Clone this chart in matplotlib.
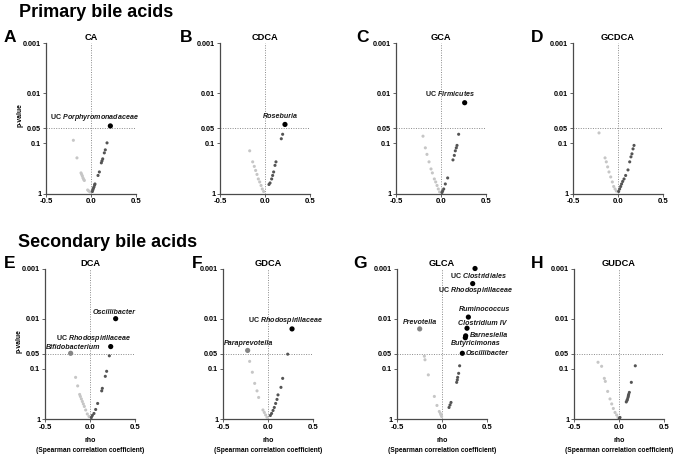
import matplotlib
matplotlib.use('Agg')
import matplotlib.pyplot as plt
from matplotlib.ticker import NullLocator

plt.rcParams['font.family'] = ['Liberation Sans', 'DejaVu Sans']
plt.rcParams['mathtext.fontset'] = 'custom'
plt.rcParams['mathtext.it'] = 'Liberation Sans:italic:bold'
plt.rcParams['mathtext.rm'] = 'Liberation Sans:bold'
plt.rcParams['mathtext.bf'] = 'Liberation Sans:bold'

# ---------------- data (rho, p-value) ----------------
# CA
ca_rho_neg = [-0.196, -0.156, -0.111, -0.104, -0.096, -0.089, -0.081, -0.074, -0.037, -0.026, -0.011]
ca_p_neg = [0.087, 0.195, 0.389, 0.417, 0.447, 0.490, 0.525, 0.550, 0.851, 0.891, 0.933]
ca_rho_pos = [0.178, 0.159, 0.148, 0.130, 0.122, 0.115, 0.093, 0.078, 0.044, 0.040, 0.033, 0.026, 0.020, 0.015]
ca_p_pos = [0.098, 0.135, 0.155, 0.204, 0.224, 0.245, 0.372, 0.437, 0.646, 0.676, 0.741, 0.794, 0.851, 0.912]
ca_sig_names = ["UC Porphyromonadaceae"]
ca_sig_rho = [0.215]
ca_sig_p = [0.045]

# CDCA
cdca_rho_neg = [-0.170, -0.137, -0.119, -0.104, -0.089, -0.074, -0.059, -0.044, -0.030, -0.015]
cdca_p_neg = [0.141, 0.234, 0.288, 0.347, 0.417, 0.513, 0.589, 0.692, 0.813, 0.912]
cdca_rho_pos = [0.196, 0.181, 0.122, 0.111, 0.096, 0.085, 0.074, 0.056, 0.044]
cdca_p_pos = [0.066, 0.081, 0.234, 0.275, 0.372, 0.437, 0.513, 0.617, 0.661]
cdca_sig_names = ["Roseburia"]
cdca_sig_rho = [0.222]
cdca_sig_p = [0.042]

# GCA
gca_rho_neg = [-0.200, -0.174, -0.156, -0.133, -0.111, -0.096, -0.074, -0.059, -0.044, -0.030, -0.015]
gca_p_neg = [0.072, 0.123, 0.166, 0.234, 0.324, 0.389, 0.513, 0.589, 0.692, 0.813, 0.933]
gca_rho_pos = [0.196, 0.178, 0.170, 0.159, 0.148, 0.133, 0.074, 0.048, 0.030, 0.018, 0.011]
gca_p_pos = [0.066, 0.110, 0.123, 0.141, 0.174, 0.214, 0.490, 0.646, 0.813, 0.891, 0.955]
gca_sig_names = ["UC Firmicutes"]
gca_sig_rho = [0.263]
gca_sig_p = [0.0155]

# GCDCA
gcdca_rho_neg = [-0.211, -0.144, -0.130, -0.115, -0.100, -0.081, -0.063, -0.048, -0.033, -0.018]
gcdca_p_neg = [0.062, 0.195, 0.234, 0.295, 0.372, 0.468, 0.589, 0.724, 0.813, 0.891]
gcdca_rho_pos = [0.178, 0.167, 0.155, 0.144, 0.130, 0.111, 0.085, 0.067, 0.052, 0.040, 0.030, 0.018, 0.007]
gcdca_p_pos = [0.110, 0.129, 0.162, 0.186, 0.234, 0.339, 0.437, 0.513, 0.575, 0.646, 0.724, 0.813, 0.912]
gcdca_sig_names = []
gcdca_sig_rho = []
gcdca_sig_p = []

# DCA
dca_rho_neg = [-0.160, -0.137, -0.115, -0.107, -0.096, -0.085, -0.074, -0.063, -0.048, -0.030, -0.011]
dca_p_neg = [0.148, 0.219, 0.324, 0.355, 0.398, 0.447, 0.501, 0.562, 0.661, 0.794, 0.891]
dca_rho_pos = [0.215, 0.185, 0.170, 0.137, 0.130, 0.085, 0.063, 0.044, 0.026, 0.015]
dca_p_pos = [0.055, 0.112, 0.141, 0.245, 0.275, 0.490, 0.646, 0.776, 0.851, 0.933]
dca_sig_names = ["Oscillibacter", "UC Rhodospirillaceae", "Bifidobacterium"]
dca_sig_rho = [0.285, 0.230, -0.215]
dca_sig_p = [0.010, 0.036, 0.049]

# GDCA
gdca_rho_neg = [-0.204, -0.174, -0.148, -0.122, -0.104, -0.056, -0.041, -0.026, -0.011]
gdca_p_neg = [0.071, 0.117, 0.195, 0.275, 0.372, 0.661, 0.741, 0.832, 0.933]
gdca_rho_pos = [0.219, 0.163, 0.144, 0.111, 0.100, 0.085, 0.070, 0.056, 0.040, 0.026]
gdca_p_pos = [0.051, 0.155, 0.234, 0.331, 0.407, 0.490, 0.589, 0.676, 0.776, 0.851]
gdca_sig_names = ["UC Rhodospirillaceae", "Paraprevotella"]
gdca_sig_rho = [0.267, -0.226]
gdca_sig_p = [0.016, 0.043]

# GLCA
glca_rho_neg = [-0.196, -0.189, -0.152, -0.085, -0.056, -0.030, -0.018, -0.011, -0.004]
glca_p_neg = [0.056, 0.066, 0.132, 0.355, 0.537, 0.708, 0.776, 0.832, 0.891]
glca_rho_pos = [0.196, 0.185, 0.174, 0.170, 0.163, 0.100, 0.089, 0.078]
glca_p_pos = [0.087, 0.123, 0.148, 0.166, 0.186, 0.468, 0.525, 0.589]
glca_sig_names = ["UC Clostridiales", "UC Rhodospirillaceae", "Ruminococcus", "Clostridium IV",
                  "Barnesiella", "Butyricimonas", "Oscillibacter", "Prevotella"]
glca_sig_rho = [0.367, 0.341, 0.293, 0.278, 0.263, 0.259, 0.226, -0.248]
glca_sig_p = [0.001, 0.002, 0.0093, 0.0155, 0.022, 0.024, 0.049, 0.016]

# GUDCA
gudca_rho_neg = [-0.233, -0.193, -0.163, -0.152, -0.126, -0.100, -0.081, -0.063, -0.044, -0.026, -0.011]
gudca_p_neg = [0.074, 0.089, 0.155, 0.178, 0.282, 0.398, 0.501, 0.617, 0.741, 0.832, 0.933]
gudca_rho_pos = [0.181, 0.137, 0.115, 0.107, 0.104, 0.100, 0.093, 0.089, 0.081, 0.011, 0.004]
gudca_p_pos = [0.087, 0.186, 0.295, 0.324, 0.347, 0.372, 0.407, 0.427, 0.457, 0.933, 0.977]
gudca_sig_names = []
gudca_sig_rho = []
gudca_sig_p = []

titles = ["CA", "CDCA", "GCA", "GCDCA", "DCA", "GDCA", "GLCA", "GUDCA"]
letters = ["A", "B", "C", "D", "E", "F", "G", "H"]
yticks = [1, 0.1, 0.05, 0.01, 0.001]
ytick_labels = ["1", "0.1", "0.05", "0.01", "0.001"]
xticks = [-0.5, 0.0, 0.5]
xtick_labels = ["-0.5", "0.0", "0.5"]

# ---------------- layout / styles ----------------
# label offsets (points) relative to their markers
label_offsets = {
    "CA": [(-11.5, 5.8)],
    "CDCA": [(-3.6, 5.8)],
    "GCA": [(-10.3, 6.5)],
    "GCDCA": [],
    "DCA": [(-1.2, 4.5), (-12.5, 6.0), (1.6, 4.3)],
    "GDCA": [(-4.8, 6.2), (0.7, 4.8)],
    "GLCA": [(2.7, -5.3), (1.9, -4.8), (12.0, 5.3), (11.3, 3.6), (16.6, 0.0), (7.7, -4.3), (18.2, 0.0), (0.4, 4.8)],
    "GUDCA": [],
}

W, H = 676, 458
fig = plt.figure(figsize=(W / 100, H / 100), dpi=100)

ax_left_px = [46, 220, 396, 573, 45, 223, 397, 574]
ax_top_px = [43] * 4 + [268.5] * 4
ax_w_px = 90
ax_h_px = 150.5
letter_pos = [(10, 37.5), (186, 37.5), (362.5, 37.5), (537.5, 37.5),
              (9.5, 263), (197, 263), (360.5, 263), (537, 263)]

datasets = [
    (ca_rho_neg, ca_p_neg, ca_rho_pos, ca_p_pos, ca_sig_names, ca_sig_rho, ca_sig_p),
    (cdca_rho_neg, cdca_p_neg, cdca_rho_pos, cdca_p_pos, cdca_sig_names, cdca_sig_rho, cdca_sig_p),
    (gca_rho_neg, gca_p_neg, gca_rho_pos, gca_p_pos, gca_sig_names, gca_sig_rho, gca_sig_p),
    (gcdca_rho_neg, gcdca_p_neg, gcdca_rho_pos, gcdca_p_pos, gcdca_sig_names, gcdca_sig_rho, gcdca_sig_p),
    (dca_rho_neg, dca_p_neg, dca_rho_pos, dca_p_pos, dca_sig_names, dca_sig_rho, dca_sig_p),
    (gdca_rho_neg, gdca_p_neg, gdca_rho_pos, gdca_p_pos, gdca_sig_names, gdca_sig_rho, gdca_sig_p),
    (glca_rho_neg, glca_p_neg, glca_rho_pos, glca_p_pos, glca_sig_names, glca_sig_rho, glca_sig_p),
    (gudca_rho_neg, gudca_p_neg, gudca_rho_pos, gudca_p_pos, gudca_sig_names, gudca_sig_rho, gudca_sig_p),
]

LIGHT = '#c6c6c6'
DARK = '#545454'
MID = '#858585'
AXC = '#4a4a4a'


def fmt_name(name):
    if name.startswith("UC "):
        rest = name[3:].replace(" ", r"\ ")
        return "UC $\\mathit{" + rest + "}$", 'normal'
    return name, 'italic'


for i, (title, data) in enumerate(zip(titles, datasets)):
    rn, pn, rp, pp, names, rs, ps = data
    left = ax_left_px[i] / W
    bottom = (H - ax_top_px[i] - ax_h_px) / H
    ax = fig.add_axes([left, bottom, ax_w_px / W, ax_h_px / H])
    ax.set_yscale('log')
    ax.set_xlim(-0.5, 0.5)
    ax.set_ylim(1, 0.001)
    ax.axhline(0.05, ls=(0, (1, 1.5)), color='#8a8a8a', lw=0.7, zorder=1)
    ax.axvline(0.0, ls=(0, (1, 1.5)), color='#8a8a8a', lw=0.7, zorder=1)
    ax.scatter(rn, pn, s=5, color=LIGHT, edgecolors='none', zorder=3, clip_on=False)
    ax.scatter(rp, pp, s=5, color=DARK, edgecolors='none', zorder=3, clip_on=False)
    sig_colors = ['black' if r > 0 else MID for r in rs]
    if rs:
        ax.scatter(rs, ps, s=14, color=sig_colors, edgecolors='none', zorder=4, clip_on=False)
    for name, r, p, off in zip(names, rs, ps, label_offsets[title]):
        txt, style = fmt_name(name)
        ax.annotate(txt, (r, p), xytext=off, textcoords='offset points',
                    ha='center', va='center', fontsize=5.1, fontweight='bold',
                    fontstyle=style, color='#1a1a1a', annotation_clip=False)
    for s in ['top', 'right']:
        ax.spines[s].set_visible(False)
    for s in ['left', 'bottom']:
        ax.spines[s].set_color(AXC)
        ax.spines[s].set_linewidth(0.9)
    ax.set_yticks(yticks)
    ax.set_yticklabels(ytick_labels, fontweight='bold', fontsize=5.2)
    ax.set_xticks(xticks)
    ax.set_xticklabels(xtick_labels, fontweight='bold', fontsize=5.6)
    ax.yaxis.set_minor_locator(NullLocator())
    ax.tick_params(axis='both', length=2, width=0.6, color=AXC, pad=1.5)
    ax.set_title(title, fontsize=6.7, fontweight='bold', pad=2)
    lx, ly = letter_pos[i]
    fig.text(lx / W, 1 - ly / H, letters[i], fontsize=12.5, fontweight='bold',
             ha='center', va='center')
    if i in (0, 4):
        ax.text(-0.29, 0.52, "p-value", transform=ax.transAxes, rotation=90,
                ha='center', va='center', fontsize=4.9, fontweight='bold')
    if i >= 4:
        ax.text(0.5, -0.14, "rho", transform=ax.transAxes, ha='center', va='center',
                fontsize=5.0, fontweight='bold')
        ax.text(0.5, -0.207, "(Spearman correlation coefficient)", transform=ax.transAxes,
                ha='center', va='center', fontsize=4.8, fontweight='bold')

fig.text(19 / W, 1 - 16.7 / H, "Primary bile acids", fontsize=13, fontweight='bold',
         ha='left', va='baseline')
fig.text(18 / W, 1 - 247.3 / H, "Secondary bile acids", fontsize=13, fontweight='bold',
         ha='left', va='baseline')

fig.savefig('out.png', dpi=100)
